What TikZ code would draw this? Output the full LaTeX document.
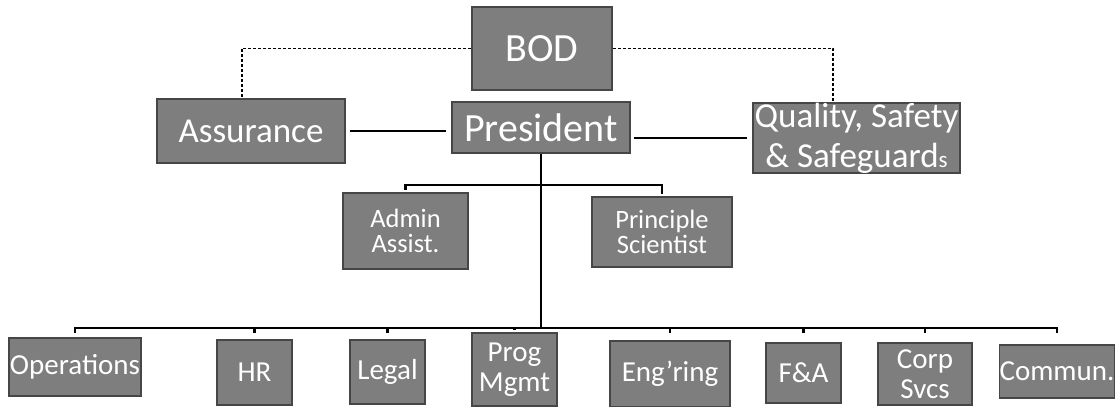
\documentclass[tikz,border=0pt]{standalone}
\usepackage{fontspec}
\setmainfont{Carlito}
\usepackage{tikz}
\usetikzlibrary{positioning}
\definecolor{boxgray}{RGB}{126,126,126}
\definecolor{boxedge}{RGB}{70,70,70}

\begin{document}
\begin{tikzpicture}[x=1pt, y=1pt,
   unit/.style={draw=boxedge, line width=1.6pt, fill=boxgray, text=white,
                inner sep=0pt, align=center},
   big/.style={font=\fontsize{40}{40}\selectfont},
   mid/.style={font=\fontsize{35}{40}\selectfont},
   small/.style={font=\fontsize{26.5}{25}\selectfont},
   dept/.style={font=\fontsize{29}{30}\selectfont},
   link/.style={line width=2.8pt, black},
   dotlink/.style={line width=1.6pt, dashed, dash pattern=on 3pt off 2pt, black}]
\useasboundingbox (0,0) rectangle (1117,407);

% top row
\node[unit, big, minimum width=140, minimum height=83] (bod) at (542,358.5) {BOD};
\node[unit, big, minimum width=178, minimum height=51] (pres) at (541,279.5) {President};
\node[unit, mid, minimum width=188, minimum height=64] (assur) at (251,276) {Assurance};
\node[unit, mid, minimum width=207, minimum height=70] (qss) at (856.5,269)
     {Quality, Safety\\\& Safeguard{\fontsize{23}{23}\selectfont s}};

% staff
\node[unit, small, minimum width=125, minimum height=76] (admin_asst) at (405.5,176) {Admin\\Assist.};
\node[unit, small, minimum width=140, minimum height=70] (prin_sci) at (662,175) {Principle\\Scientist};

% departments
\node[unit, dept, minimum width=132, minimum height=58] (ops) at (75,40) {Operations};
\node[unit, dept, minimum width=75, minimum height=65] (hr) at (254.5,34.5) {HR};
\node[unit, dept, minimum width=75, minimum height=64] (legal) at (387.5,35) {Legal};
\node[unit, dept, minimum width=85, minimum height=73] (prog_mgmt) at (514.5,37.5) {Prog\\Mgmt};
\node[unit, dept, minimum width=120, minimum height=66] (eng) at (670,33) {Eng’ring};
\node[unit, dept, minimum width=75, minimum height=60] (fa) at (803.5,34) {F\&A};
\node[unit, dept, minimum width=94, minimum height=62] (corp_svcs) at (925,33) {Corp\\Svcs};
\node[unit, dept, minimum width=114, minimum height=53] (commun) at (1057,35.5) {Commun.};

\coordinate (staff_bar) at (541,222);
\coordinate (dept_bar) at (541,79);

% dotted reporting lines
\draw[dotlink] (bod.west) -| ([xshift=-9pt]assur.north);
\draw[dotlink] (bod.east) -| ([xshift=-23.5pt]qss.north);

% solid lines
\draw[link, shorten <=4pt, shorten >=5pt] (assur.east) -- (assur.east -| pres.west);
\draw[link, shorten <=3pt, shorten >=5pt] (pres.east |- qss.west) -- (qss.west);
\draw[link] (pres.south) -- (dept_bar);
\draw[link, shorten >=2pt] (staff_bar) -| (admin_asst.north);
\draw[link, shorten >=2pt] (staff_bar) -| (prin_sci.north);
\foreach \d/\gap in {ops/4, hr/6, legal/6, prog_mgmt/2, eng/7, fa/9, corp_svcs/9, commun/11}
   \draw[link, shorten >=\gap pt] (dept_bar) -| (\d.north);
%--------end org chart----
\end{tikzpicture}
\end{document}
